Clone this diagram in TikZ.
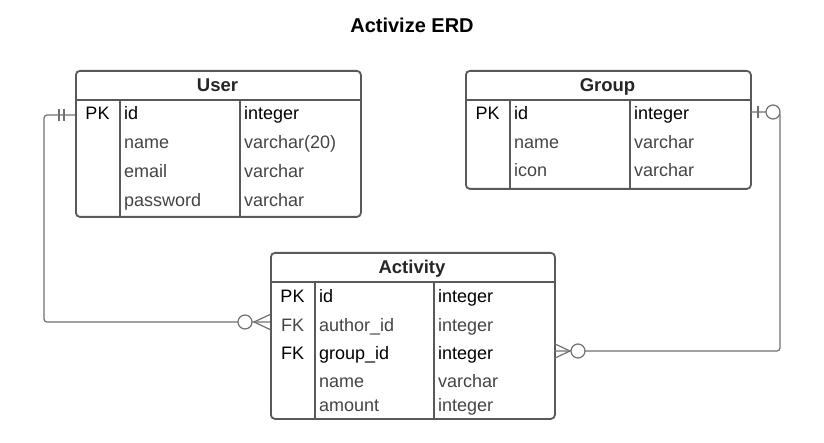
\documentclass[tikz,border=0pt]{standalone}
\usepackage{fontspec}
\setmainfont{Liberation Sans}
\usetikzlibrary{positioning}
\definecolor{linegray}{HTML}{595959}
\definecolor{textgray}{HTML}{444444}
\definecolor{wiregray}{HTML}{707070}
\tikzset{
  entity/.style={draw=linegray, line width=1.8pt, rounded corners=4pt, anchor=north west, inner sep=0pt},
  rule/.style={draw=linegray, line width=1.8pt},
  head/.style={font=\fontsize{18.5}{21}\selectfont\bfseries, text=black!85, text height=13pt, text depth=0pt, inner sep=0pt},
  key/.style={inner sep=0pt, text height=12.8pt, text depth=0pt},
  cell/.style={key, anchor=west},
  wire/.style={draw=wiregray, line width=1.2pt},
  nought/.style={wire, fill=white}
}
\begin{document}
\begin{tikzpicture}[x=1pt,y=-1pt,font=\fontsize{18}{21}\selectfont]
\useasboundingbox (0,0) rectangle (824,443);

\node[font=\fontsize{20}{23}\selectfont\bfseries] (title) at (412,25) {Activize ERD};

\node[entity, minimum width=285pt, minimum height=146pt] (user) at (75,70) {};
\draw[rule] (75,100) -- (360,100) (120,100) -- (120,216) (240,100) -- (240,216);
\node[head] (user-head) at (217.5,85) {User};
\foreach \y/\k/\n/\t/\c in {113/PK/id/integer/black,142//name/varchar(20)/textgray,171//email/varchar/textgray,200//password/varchar/textgray}{
  \node[key,text=\c] (user-k\y) at (97.5,\y) {\k};
  \node[cell,text=\c] (user-n\y) at (124,\y) {\n};
  \node[cell,text=\c] (user-t\y) at (244,\y) {\t};
}

\node[entity, minimum width=285pt, minimum height=118pt] (group) at (465,70) {};
\draw[rule] (465,100) -- (750,100) (510,100) -- (510,188) (630,100) -- (630,188);
\node[head] (group-head) at (607.5,85) {Group};
\foreach \y/\k/\n/\t/\c in {113/PK/id/integer/black,142//name/varchar/textgray,170//icon/varchar/textgray}{
  \node[key,text=\c] (group-k\y) at (487.5,\y) {\k};
  \node[cell,text=\c] (group-n\y) at (514,\y) {\n};
  \node[cell,text=\c] (group-t\y) at (634,\y) {\t};
}

\node[entity, minimum width=284pt, minimum height=166pt] (activity) at (270,252) {};
\draw[rule] (270,282) -- (554,282) (315,282) -- (315,418) (434,282) -- (434,418);
\node[head] (activity-head) at (412,267) {Activity};
\foreach \y/\k/\n/\t/\c in {296/PK/id/integer/black,325/FK/author\_id/integer/textgray,353/FK/group\_id/integer/black,381//name/varchar/textgray,405//amount/integer/textgray}{
  \node[key,text=\c] (activity-k\y) at (292.5,\y) {\k};
  \node[cell,text=\c] (activity-n\y) at (319,\y) {\n};
  \node[cell,text=\c] (activity-t\y) at (438,\y) {\t};
}

\coordinate (user-id) at (75,115);
\coordinate (activity-author) at (270,322);
\coordinate (group-id) at (750,112);
\coordinate (activity-group) at (554,351);

\draw[wire, rounded corners=3pt] (user-id) -- (44,115) -- (44,322) -- (activity-author);
\draw[wire] (59,109) -- (59,121) (64,109) -- (64,121);
\draw[wire] (254,322) -- (270,314.5) (254,322) -- (270,329.5);
\draw[nought] (245,322) circle [radius=7];

\draw[wire, rounded corners=3pt] (group-id) -- (780,112) -- (780,351) -- (activity-group);
\draw[wire] (758,106) -- (758,118);
\draw[nought] (773,112) circle [radius=7];
\draw[wire] (570,351) -- (554,343.5) (570,351) -- (554,358.5);
\draw[nought] (578,351) circle [radius=7];
\end{tikzpicture}
\end{document}
